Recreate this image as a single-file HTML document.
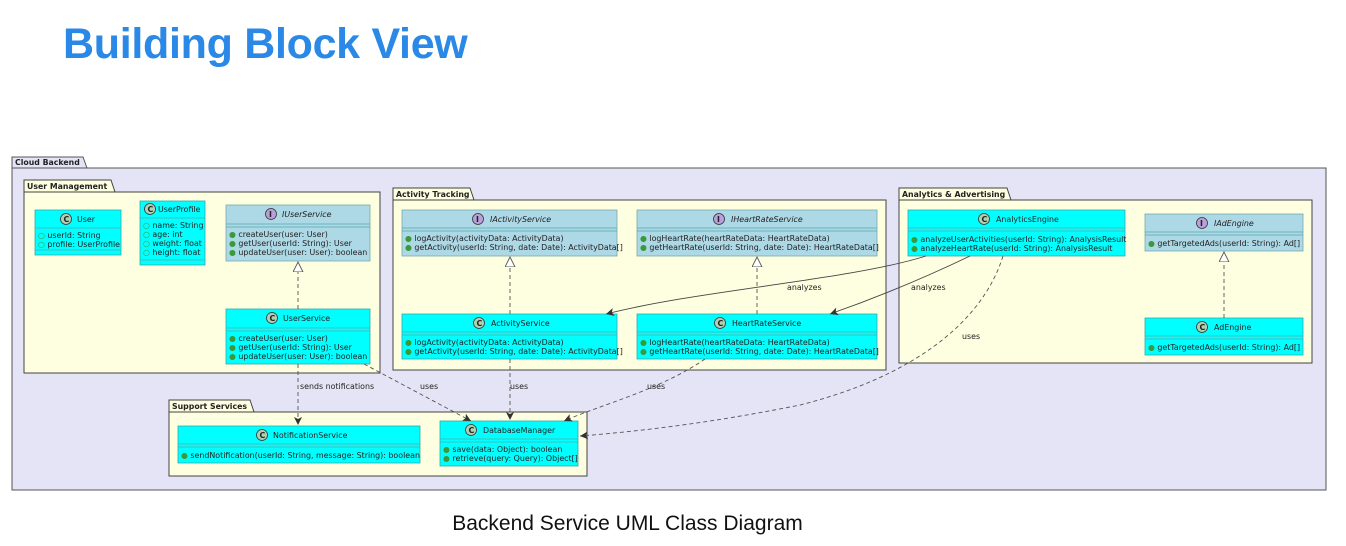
<!DOCTYPE html>
<html><head><meta charset="utf-8"><style>
body{margin:0;background:#fff;width:1346px;height:546px;overflow:hidden;font-family:"Liberation Sans",sans-serif}
h1{position:absolute;left:63px;top:20px;margin:0;font-size:43px;font-weight:bold;color:#2a88e6;letter-spacing:-0.3px}
.cap{position:absolute;left:0;width:1255px;text-align:center;top:512px;font-size:21px;color:#111}
svg{position:absolute;left:0;top:0}
text{font-family:"DejaVu Sans","Liberation Sans",sans-serif;font-size:7.9px;fill:#222}
.pk{font-weight:bold;font-size:7.8px}
.c{fill:#00ffff;stroke:#3aa;stroke-width:0.8}
.i{fill:#add8e6;stroke:#7aa;stroke-width:0.8}
.d{stroke:#555;stroke-width:0.9;fill:none;stroke-dasharray:4,3}
.s{stroke:#444;stroke-width:0.9;fill:none}
.sep{stroke:#5aa;stroke-width:0.7}
</style></head><body>
<h1>Building Block View</h1>
<div class="cap">Backend Service UML Class Diagram</div>
<svg width="1346" height="546">
<defs>
<marker id="tri" markerWidth="12" markerHeight="12" refX="10" refY="5" orient="auto" markerUnits="userSpaceOnUse"><path d="M0,0 L10,5 L0,10 Z" fill="#fff" stroke="#555" stroke-width="0.9"/></marker>
<marker id="arr" markerWidth="10" markerHeight="10" refX="8" refY="4" orient="auto" markerUnits="userSpaceOnUse"><path d="M0,0 L8,4 L0,8 L2,4 Z" fill="#333"/></marker>
</defs>
<path d="M12,168 L12,157 L83,157 L87,168" fill="#e4e4f6" stroke="#555" stroke-width="1"/>
<rect x="12" y="168" width="1314" height="322" fill="#e4e4f6" stroke="#555" stroke-width="1"/>
<text x="15" y="165" class="pk">Cloud Backend</text>
<g fill="#fefee0" stroke="#444" stroke-width="1">
<path d="M24,192 L24,180 L111,180 L115,192"/><rect x="24" y="192" width="356" height="181"/>
<path d="M393,200 L393,188 L470,188 L474,200"/><rect x="393" y="200" width="493" height="170"/>
<path d="M899,200 L899,188 L1007,188 L1011,200"/><rect x="899" y="200" width="413" height="163"/>
<path d="M169,412 L169,400 L250,400 L254,412"/><rect x="169" y="412" width="418" height="64"/>
</g>
<text x="27" y="189" class="pk">User Management</text>
<text x="396" y="197" class="pk">Activity Tracking</text>
<text x="902" y="197" class="pk">Analytics &amp; Advertising</text>
<text x="172" y="409" class="pk">Support Services</text>

<g>
<rect class="c" x="35" y="210" width="86" height="45"/>
<line class="sep" x1="35" y1="228" x2="121" y2="228"/><line class="sep" x1="35" y1="250" x2="121" y2="250"/>
<circle cx="66" cy="219" r="5.5" fill="#add1b2" stroke="#333" stroke-width="0.8"/><text x="63.5" y="222" font-weight="bold">C</text>
<text x="77" y="222">User</text>
<text x="38" y="238"><tspan fill="#3a9a3a">○</tspan> userId: String</text>
<text x="38" y="247"><tspan fill="#3a9a3a">○</tspan> profile: UserProfile</text>
<rect class="c" x="140" y="201" width="65" height="64"/>
<line class="sep" x1="140" y1="218" x2="205" y2="218"/><line class="sep" x1="140" y1="260" x2="205" y2="260"/>
<circle cx="150" cy="209" r="5.5" fill="#add1b2" stroke="#333" stroke-width="0.8"/><text x="147.5" y="212" font-weight="bold">C</text>
<text x="158" y="212">UserProfile</text>
<text x="143" y="228"><tspan fill="#3a9a3a">○</tspan> name: String</text>
<text x="143" y="237"><tspan fill="#3a9a3a">○</tspan> age: int</text>
<text x="143" y="246"><tspan fill="#3a9a3a">○</tspan> weight: float</text>
<text x="143" y="255"><tspan fill="#3a9a3a">○</tspan> height: float</text>
<rect class="i" x="226" y="205" width="144" height="56"/>
<line class="sep" x1="226" y1="224" x2="370" y2="224"/><line class="sep" x1="226" y1="227" x2="370" y2="227"/>
<circle cx="271" cy="214" r="5.5" fill="#b9a0dc" stroke="#333" stroke-width="0.8"/><text x="269" y="217" font-weight="bold">I</text>
<text x="282" y="217" font-style="italic">IUserService</text>
<text x="229" y="237"><tspan fill="#3a9a3a">●</tspan> createUser(user: User)</text>
<text x="229" y="246"><tspan fill="#3a9a3a">●</tspan> getUser(userId: String): User</text>
<text x="229" y="255"><tspan fill="#3a9a3a">●</tspan> updateUser(user: User): boolean</text>
<rect class="c" x="226" y="309" width="144" height="55"/>
<line class="sep" x1="226" y1="328" x2="370" y2="328"/><line class="sep" x1="226" y1="331" x2="370" y2="331"/>
<circle cx="272" cy="318" r="5.5" fill="#add1b2" stroke="#333" stroke-width="0.8"/><text x="269.5" y="321" font-weight="bold">C</text>
<text x="283" y="321">UserService</text>
<text x="229" y="341"><tspan fill="#3a9a3a">●</tspan> createUser(user: User)</text>
<text x="229" y="350"><tspan fill="#3a9a3a">●</tspan> getUser(userId: String): User</text>
<text x="229" y="359"><tspan fill="#3a9a3a">●</tspan> updateUser(user: User): boolean</text>
<rect class="i" x="402" y="210" width="215" height="46"/>
<line class="sep" x1="402" y1="228" x2="617" y2="228"/><line class="sep" x1="402" y1="231" x2="617" y2="231"/>
<circle cx="478" cy="219" r="5.5" fill="#b9a0dc" stroke="#333" stroke-width="0.8"/><text x="476" y="222" font-weight="bold">I</text>
<text x="490" y="222" font-style="italic">IActivityService</text>
<text x="405" y="241"><tspan fill="#3a9a3a">●</tspan> logActivity(activityData: ActivityData)</text>
<text x="405" y="250"><tspan fill="#3a9a3a">●</tspan> getActivity(userId: String, date: Date): ActivityData[]</text>
<rect class="i" x="637" y="210" width="240" height="46"/>
<line class="sep" x1="637" y1="228" x2="877" y2="228"/><line class="sep" x1="637" y1="231" x2="877" y2="231"/>
<circle cx="719" cy="219" r="5.5" fill="#b9a0dc" stroke="#333" stroke-width="0.8"/><text x="717" y="222" font-weight="bold">I</text>
<text x="731" y="222" font-style="italic">IHeartRateService</text>
<text x="640" y="241"><tspan fill="#3a9a3a">●</tspan> logHeartRate(heartRateData: HeartRateData)</text>
<text x="640" y="250"><tspan fill="#3a9a3a">●</tspan> getHeartRate(userId: String, date: Date): HeartRateData[]</text>
<rect class="c" x="402" y="314" width="215" height="45"/>
<line class="sep" x1="402" y1="332" x2="617" y2="332"/><line class="sep" x1="402" y1="335" x2="617" y2="335"/>
<circle cx="479" cy="323" r="5.5" fill="#add1b2" stroke="#333" stroke-width="0.8"/><text x="476.5" y="326" font-weight="bold">C</text>
<text x="491" y="326">ActivityService</text>
<text x="405" y="345"><tspan fill="#3a9a3a">●</tspan> logActivity(activityData: ActivityData)</text>
<text x="405" y="354"><tspan fill="#3a9a3a">●</tspan> getActivity(userId: String, date: Date): ActivityData[]</text>
<rect class="c" x="637" y="314" width="240" height="45"/>
<line class="sep" x1="637" y1="332" x2="877" y2="332"/><line class="sep" x1="637" y1="335" x2="877" y2="335"/>
<circle cx="720" cy="323" r="5.5" fill="#add1b2" stroke="#333" stroke-width="0.8"/><text x="717.5" y="326" font-weight="bold">C</text>
<text x="732" y="326">HeartRateService</text>
<text x="640" y="345"><tspan fill="#3a9a3a">●</tspan> logHeartRate(heartRateData: HeartRateData)</text>
<text x="640" y="354"><tspan fill="#3a9a3a">●</tspan> getHeartRate(userId: String, date: Date): HeartRateData[]</text>
<rect class="c" x="908" y="210" width="217" height="46"/>
<line class="sep" x1="908" y1="228" x2="1125" y2="228"/><line class="sep" x1="908" y1="231" x2="1125" y2="231"/>
<circle cx="984" cy="219" r="5.5" fill="#add1b2" stroke="#333" stroke-width="0.8"/><text x="981.5" y="222" font-weight="bold">C</text>
<text x="996" y="222">AnalyticsEngine</text>
<text x="911" y="242"><tspan fill="#3a9a3a">●</tspan> analyzeUserActivities(userId: String): AnalysisResult</text>
<text x="911" y="251"><tspan fill="#3a9a3a">●</tspan> analyzeHeartRate(userId: String): AnalysisResult</text>
<rect class="i" x="1145" y="214" width="158" height="37"/>
<line class="sep" x1="1145" y1="232" x2="1303" y2="232"/><line class="sep" x1="1145" y1="235" x2="1303" y2="235"/>
<circle cx="1202" cy="223" r="5.5" fill="#b9a0dc" stroke="#333" stroke-width="0.8"/><text x="1200" y="226" font-weight="bold">I</text>
<text x="1214" y="226" font-style="italic">IAdEngine</text>
<text x="1148" y="246"><tspan fill="#3a9a3a">●</tspan> getTargetedAds(userId: String): Ad[]</text>
<rect class="c" x="1145" y="318" width="158" height="37"/>
<line class="sep" x1="1145" y1="336" x2="1303" y2="336"/><line class="sep" x1="1145" y1="339" x2="1303" y2="339"/>
<circle cx="1202" cy="327" r="5.5" fill="#add1b2" stroke="#333" stroke-width="0.8"/><text x="1199.5" y="330" font-weight="bold">C</text>
<text x="1214" y="330">AdEngine</text>
<text x="1148" y="350"><tspan fill="#3a9a3a">●</tspan> getTargetedAds(userId: String): Ad[]</text>
<rect class="c" x="178" y="426" width="242" height="37"/>
<line class="sep" x1="178" y1="444" x2="420" y2="444"/><line class="sep" x1="178" y1="447" x2="420" y2="447"/>
<circle cx="262" cy="435" r="5.5" fill="#add1b2" stroke="#333" stroke-width="0.8"/><text x="259.5" y="438" font-weight="bold">C</text>
<text x="273" y="438">NotificationService</text>
<text x="181" y="458"><tspan fill="#3a9a3a">●</tspan> sendNotification(userId: String, message: String): boolean</text>
<rect class="c" x="440" y="421" width="138" height="45"/>
<line class="sep" x1="440" y1="439" x2="578" y2="439"/><line class="sep" x1="440" y1="442" x2="578" y2="442"/>
<circle cx="471" cy="430" r="5.5" fill="#add1b2" stroke="#333" stroke-width="0.8"/><text x="468.5" y="433" font-weight="bold">C</text>
<text x="483" y="433">DatabaseManager</text>
<text x="443" y="452"><tspan fill="#3a9a3a">●</tspan> save(data: Object): boolean</text>
<text x="443" y="461"><tspan fill="#3a9a3a">●</tspan> retrieve(query: Query): Object[]</text>
</g>
<line class="d" x1="298" y1="309" x2="298" y2="262" marker-end="url(#tri)"/>
<line class="d" x1="510" y1="314" x2="510" y2="257" marker-end="url(#tri)"/>
<line class="d" x1="757" y1="314" x2="757" y2="257" marker-end="url(#tri)"/>
<line class="d" x1="1224" y1="318" x2="1224" y2="252" marker-end="url(#tri)"/>
<path class="s" d="M926,256 C850,280 700,290 606,314" marker-end="url(#arr)"/>
<path class="s" d="M970,256 C920,280 870,300 830,314" marker-end="url(#arr)"/>
<text x="787" y="290">analyzes</text>
<text x="911" y="290">analyzes</text>
<path class="d" d="M1003,256 C980,330 900,380 800,405 C700,425 630,432 580,436" marker-end="url(#arr)"/>
<text x="962" y="339">uses</text>
<line class="d" x1="298" y1="364" x2="298" y2="425" marker-end="url(#arr)"/>
<text x="300" y="389">sends notifications</text>
<path class="d" d="M364,364 L471,421" marker-end="url(#arr)"/>
<text x="420" y="389">uses</text>
<line class="d" x1="510" y1="359" x2="510" y2="420" marker-end="url(#arr)"/>
<text x="510" y="389">uses</text>
<path class="d" d="M705,359 C660,390 600,405 564,421" marker-end="url(#arr)"/>
<text x="647" y="389">uses</text>
</svg>
</body></html>
